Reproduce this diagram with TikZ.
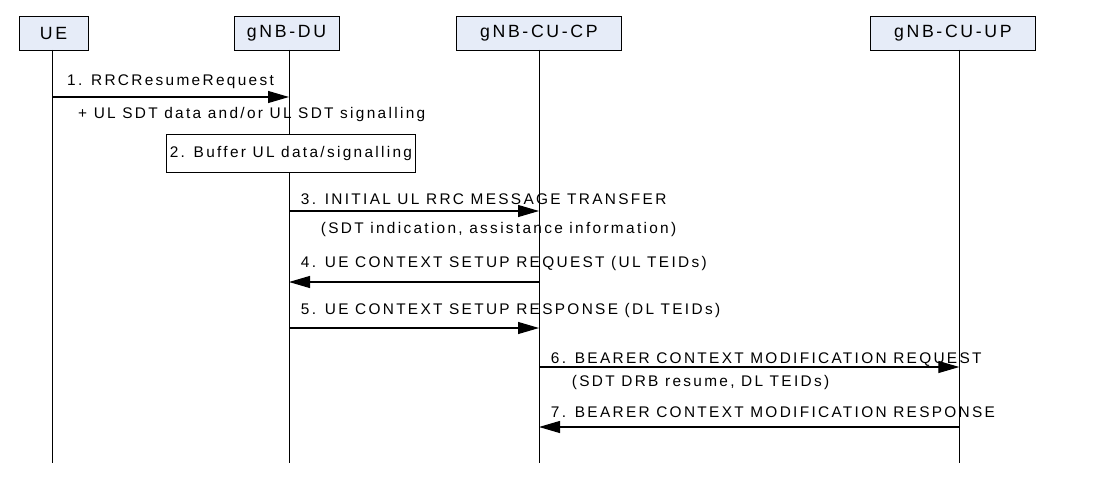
\documentclass[tikz,border=0pt]{standalone}
\usepackage{fontspec}
\setmainfont{Liberation Sans}
\newfontfamily\sigfont[LetterSpace=15]{Liberation Sans}
\usetikzlibrary{arrows.meta}
\definecolor{entfill}{RGB}{230,236,248}
\newcommand{\hdrfont}{\sigfont\fontsize{17.7}{20}\selectfont}
\newcommand{\msgfont}{\sigfont\fontsize{15.4}{18}\selectfont}
\begin{document}
\begin{tikzpicture}[x=1pt,y=-1pt,
  entity/.style={draw,line width=0.9pt,fill=entfill,minimum height=34pt,inner sep=0pt,font=\hdrfont},
  actbox/.style={draw,line width=0.9pt,fill=white,inner sep=0pt,font=\msgfont},
  life/.style={line width=0.9pt},
  msg/.style={line width=1.1pt,-{Triangle[length=21pt,width=12pt]}},
  lbl/.style={anchor=base west,inner sep=0pt,font=\msgfont}]
\useasboundingbox (0,0) rectangle (1097,484);
% entities
\node[entity,minimum width=69pt]    (ue) at (53.5,33)  {UE};
\node[entity,minimum width=105pt]   (du) at (286.5,33) {gNB-DU};
\node[entity,minimum width=165.7pt] (cp) at (538.9,33) {gNB-CU-CP};
\node[entity,minimum width=164.3pt] (up) at (952.9,33) {gNB-CU-UP};
% lifelines
\coordinate (ueT) at (52,50);  \coordinate (ueB) at (52,463);
\coordinate (duT) at (289,50); \coordinate (duB) at (289,463);
\coordinate (cpT) at (539,50); \coordinate (cpB) at (539,463);
\coordinate (upT) at (959.3,50); \coordinate (upB) at (959.3,463);
\draw[life] (ueT) -- (ueB);
\draw[life] (duT) -- (duB);
\draw[life] (cpT) -- (cpB);
\draw[life] (upT) -- (upB);
% message levels
\coordinate (m1) at (0,97);
\coordinate (m3) at (0,211);
\coordinate (m4) at (0,282);
\coordinate (m5) at (0,328);
\coordinate (m6) at (0,367);
\coordinate (m7) at (0,427);
% step 1
\draw[msg] (ueT |- m1) -- (duT |- m1);
\node[lbl] (l1)  at (67,86)   {1. RRCResumeRequest};
\node[lbl] (l1b) at (78,118)  {+ UL SDT data and/or UL SDT signalling};
% step 2
\node[actbox,minimum width=249.7pt,minimum height=38.7pt] (buf) at (290.9,153.4) {2. Buffer UL data/signalling};
% step 3
\draw[msg] (duT |- m3) -- (cpT |- m3);
\node[lbl] (l3)  at (300.7,204) {3. INITIAL UL RRC MESSAGE TRANSFER};
\node[lbl] (l3b) at (320.7,233) {(SDT indication, assistance information)};
% step 4
\draw[msg] (cpT |- m4) -- (duT |- m4);
\node[lbl] (l4)  at (300.7,267.3) {4. UE CONTEXT SETUP REQUEST (UL TEIDs)};
% step 5
\draw[msg] (duT |- m5) -- (cpT |- m5);
\node[lbl] (l5)  at (300.7,314) {5. UE CONTEXT SETUP RESPONSE (DL TEIDs)};
% step 6
\draw[msg] (cpT |- m6) -- (upT |- m6);
\node[lbl] (l6)  at (550.7,363.3) {6. BEARER CONTEXT MODIFICATION REQUEST};
\node[lbl] (l6b) at (571.7,386.7) {(SDT DRB resume, DL TEIDs)};
% step 7
\draw[msg] (upT |- m7) -- (cpT |- m7);
\node[lbl] (l7)  at (550.7,417.3) {7. BEARER CONTEXT MODIFICATION RESPONSE};
\end{tikzpicture}
\end{document}
